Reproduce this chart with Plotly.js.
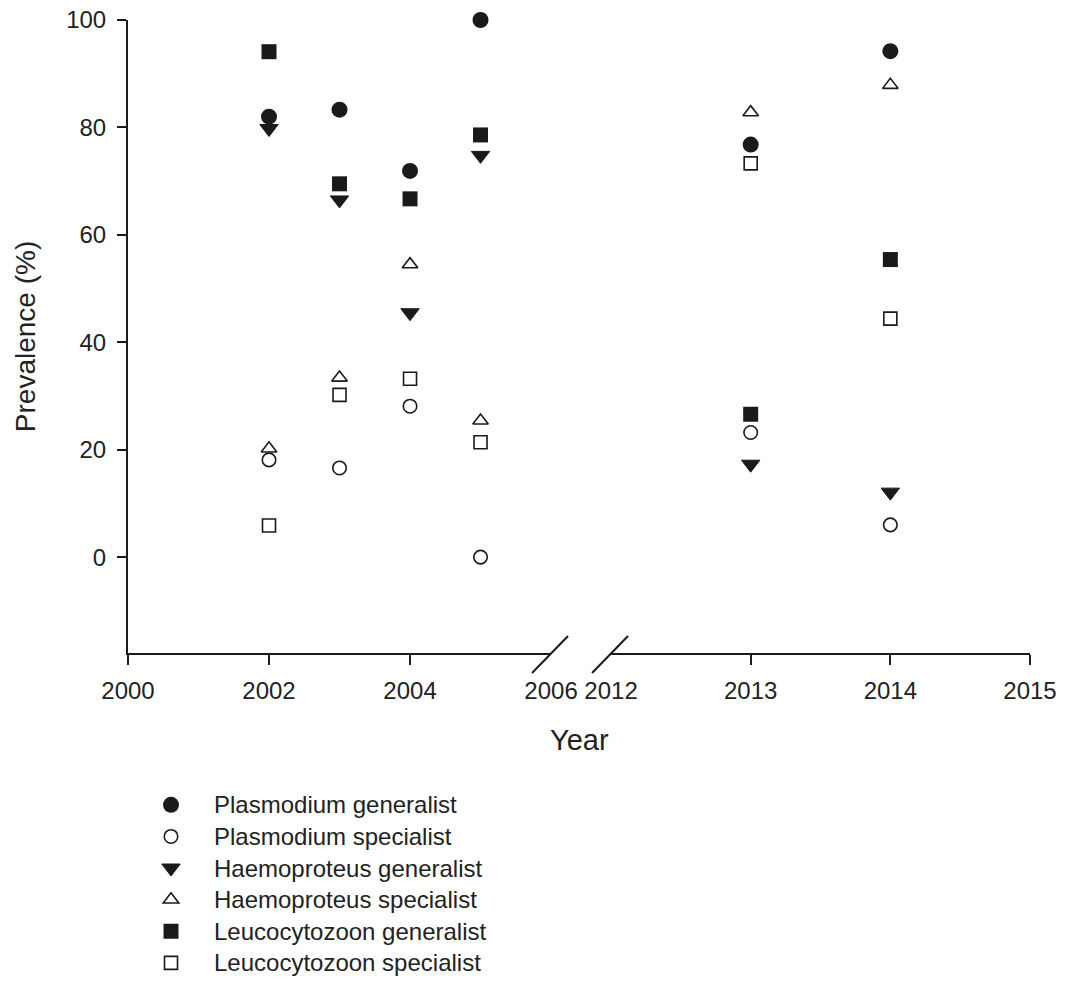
<!DOCTYPE html>
<html><head><meta charset="utf-8">
<script src="https://cdn.plot.ly/plotly-3.0.1.min.js"></script>
<style>html,body{margin:0;padding:0;background:#fff}</style>
</head><body>
<div id="chart" style="width:1065px;height:996px"></div>
<script>
// ---- data ----
const years = [2002, 2003, 2004, 2005, 2013, 2014];
const plasmodiumGeneralist    = [82.0, 83.3, 71.9, 100.0, 76.8, 94.2];
const plasmodiumSpecialist    = [18.1, 16.6, 28.1, 0.0, 23.2, 6.0];
const haemoproteusGeneralist  = [79.8, 66.5, 45.5, 74.8, 17.3, 12.1];
const haemoproteusSpecialist  = [20.2, 33.4, 54.5, 25.4, 82.8, 87.9];
const leucocytozoonGeneralist = [94.1, 69.5, 66.7, 78.6, 26.6, 55.4];
const leucocytozoonSpecialist = [5.9, 30.2, 33.2, 21.4, 73.3, 44.4];
const seriesNames = ["Plasmodium generalist", "Plasmodium specialist", "Haemoproteus generalist",
                     "Haemoproteus specialist", "Leucocytozoon generalist", "Leucocytozoon specialist"];
const leftTicks  = [2000, 2002, 2004, 2006];
const rightTicks = [2012, 2013, 2014, 2015];
const yTicks = [0, 20, 40, 60, 80, 100];
const breakStart = 2006, breakEnd = 2012;

// ---- styles ----
const INK = "#1a1a1a";
const TXT = "#222222";
const FONT = "Liberation Sans, Arial, sans-serif";
const LEFT_DOMAIN = [0, 0.469];
const RIGHT_DOMAIN = [0.5355, 1];
const Y_MIN = -17.85;
const styles = [
  {symbol: "circle", size: 16, color: INK, line: {width: 0, color: INK}},
  {symbol: "circle-open", size: 13.5, color: INK, line: {width: 1.6, color: INK}},
  {symbol: "triangle-down", size: 16, color: INK, line: {width: 1, color: INK}},
  {symbol: "triangle-up-open", size: 13.5, color: INK, line: {width: 1.6, color: INK}},
  {symbol: "square", size: 15, color: INK, line: {width: 0, color: INK}},
  {symbol: "square-open", size: 13, color: INK, line: {width: 1.6, color: INK}}
];
const allSeries = [plasmodiumGeneralist, plasmodiumSpecialist, haemoproteusGeneralist,
                   haemoproteusSpecialist, leucocytozoonGeneralist, leucocytozoonSpecialist];

const traces = [];
[["x", y => y <= breakStart, true], ["x2", y => y >= breakEnd, false]].forEach(seg => {
  allSeries.forEach((vals, i) => {
    const xs = [], ys = [];
    years.forEach((yr, k) => { if (seg[1](yr)) { xs.push(yr); ys.push(vals[k]); } });
    traces.push({
      type: "scatter", mode: "markers", x: xs, y: ys,
      xaxis: seg[0], yaxis: "y",
      name: '<span style="font-size:24px">' + seriesNames[i] + '</span>',
      legendgroup: "g" + i, showlegend: seg[2],
      marker: styles[i], cliponaxis: false, hoverinfo: "x+y"
    });
  });
});

const tickFont = {family: FONT, size: 24, color: TXT};
// x axes: labels at every tick value, tick marks (as minor ticks) everywhere except at the break
const xAxis = (domain, ticks, brk) => ({
  domain: domain, range: [ticks[0], ticks[ticks.length - 1]], anchor: "y",
  showgrid: false, zeroline: false, showline: true, linecolor: INK, linewidth: 2,
  tickmode: "array", tickvals: ticks, ticks: "", ticklabelstandoff: 15, tickfont: tickFont,
  minor: {tickmode: "array", tickvals: ticks.filter(v => v !== brk), ticks: "outside",
          ticklen: 10, tickwidth: 2, tickcolor: INK, showgrid: false},
  fixedrange: true
});

const slash = (anchorX) => ({
  type: "line", xref: "paper", yref: "paper", xsizemode: "pixel", ysizemode: "pixel",
  xanchor: anchorX, yanchor: 0, x0: -19, x1: 17, y0: -20, y1: 17,
  line: {color: INK, width: 2}, layer: "above"
});

const layout = {
  width: 1065, height: 996,
  margin: {l: 128, r: 35, t: 20, b: 328},
  paper_bgcolor: "#ffffff", plot_bgcolor: "#ffffff",
  font: {family: FONT, color: TXT},
  showlegend: true,
  xaxis: xAxis(LEFT_DOMAIN, leftTicks, breakStart),
  xaxis2: xAxis(RIGHT_DOMAIN, rightTicks, breakEnd),
  yaxis: {
    range: [Y_MIN, 100], tickvals: yTicks,
    showgrid: false, zeroline: false, showline: true, linecolor: INK, linewidth: 2,
    ticks: "outside", ticklen: 9, tickwidth: 2, tickcolor: INK, ticklabelstandoff: 6,
    tickfont: tickFont, fixedrange: true,
    title: {text: "Prevalence (%)", standoff: 22, font: {family: FONT, size: 28, color: TXT}}
  },
  annotations: [{
    text: "Year", xref: "paper", yref: "paper", x: 0.5, y: -0.137,
    xanchor: "center", yanchor: "middle", showarrow: false,
    font: {family: FONT, size: 29, color: TXT}
  }],
  shapes: [slash(LEFT_DOMAIN[1]), slash(RIGHT_DOMAIN[0])],
  legend: {
    x: 0, y: -0.207, xanchor: "left", yanchor: "top",
    orientation: "v", itemwidth: 76, borderwidth: 0, bgcolor: "rgba(0,0,0,0)",
    font: {family: FONT, size: 22, color: TXT}, traceorder: "normal"
  }
};

Plotly.newPlot("chart", traces, layout, {displayModeBar: false, staticPlot: true});
</script>
</body></html>
